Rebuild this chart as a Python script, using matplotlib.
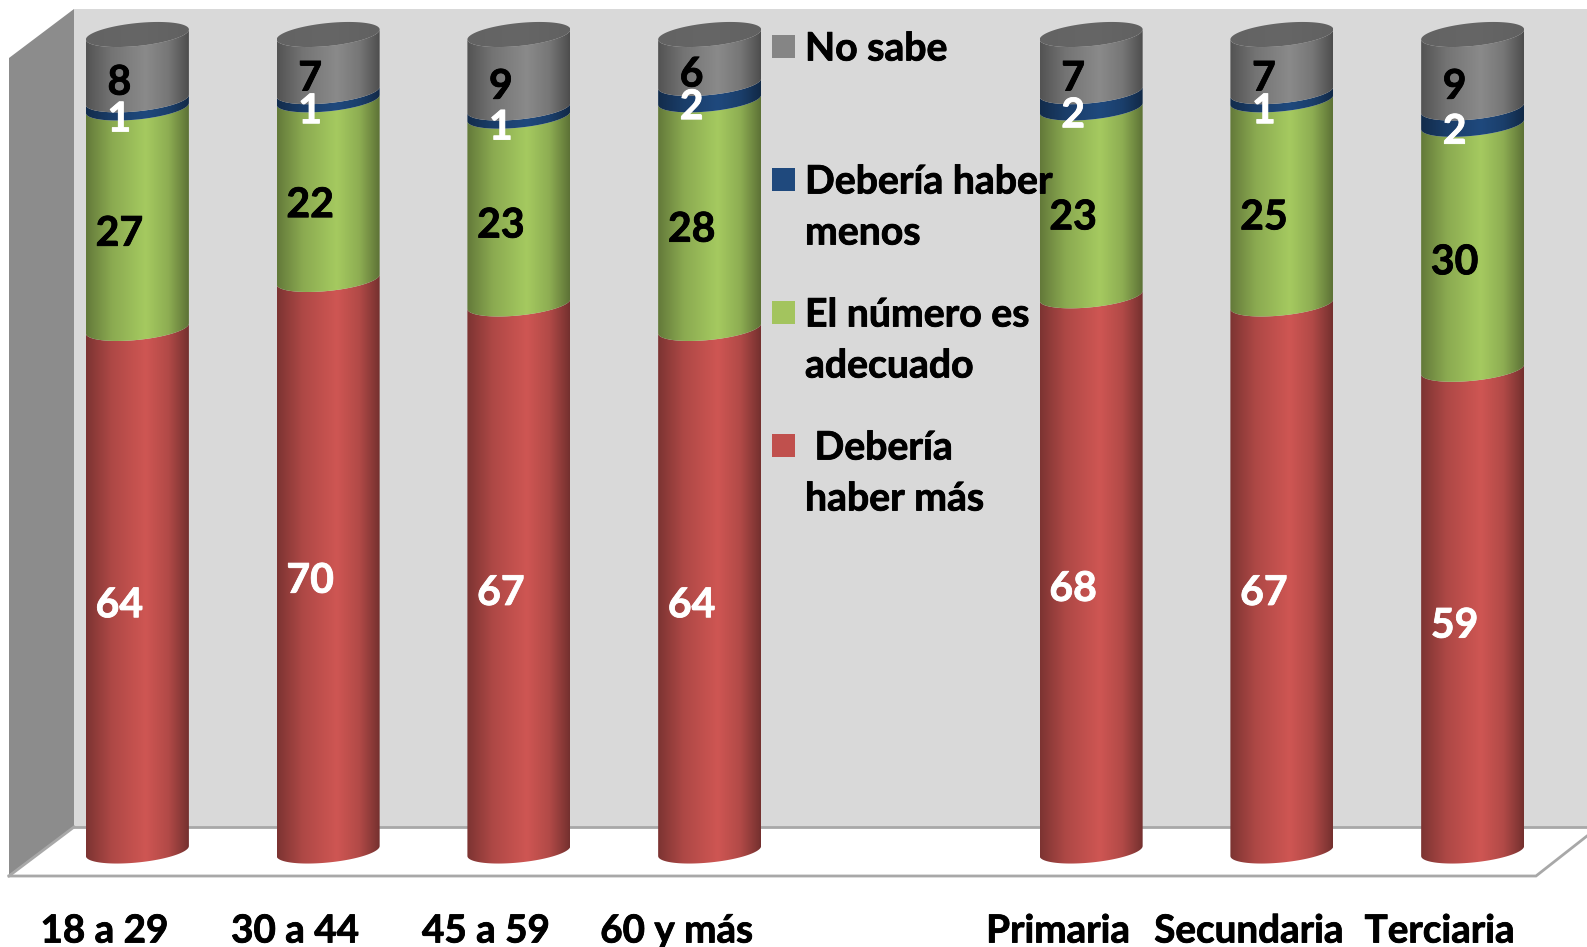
import matplotlib
matplotlib.use('Agg')
import matplotlib.pyplot as plt
import matplotlib.patheffects as pe
import numpy as np
from matplotlib.patches import Polygon, Rectangle
from matplotlib.colors import to_rgb

plt.rcParams['font.family'] = ['Lato', 'DejaVu Sans']
plt.rcParams['font.weight'] = 'bold'

# Data
categories = ['18 a 29', '30 a 44', '45 a 59', '60 y más', 'Primaria', 'Secundaria', 'Terciaria']
positions = [0, 1, 2, 3, 5, 6, 7]
mas = [64, 70, 67, 64, 68, 67, 59]
adecuado = [27, 22, 23, 28, 23, 25, 30]
menos = [1, 1, 1, 2, 2, 1, 2]
no_sabe = [8, 7, 9, 6, 7, 7, 9]

series = [mas, adecuado, menos, no_sabe]
colors = ['#cf5653', '#a5ca60', '#1f497d', '#8a8a8a']
label_colors = ['white', 'black', 'white', 'black']

legend_colors = ['#858585', '#1f497d', '#a3c45e', '#c0504d']
legend_labels = [['No sabe'], ['Debería haber', 'menos'], ['El número es', 'adecuado'], [' Debería', 'haber más']]

W, H = 1587, 947

# Pixel sizes of the 3D look
x_zero = 137.4      # pixel of position 0
x_step = 190.75     # pixels per position
y_zero = 851.0      # pixel of value 0
y_step = 8.165      # pixels per percent
bar_w = 103 / x_step
tilt = 5.0 / y_step
b = 11.5 / y_step

fig = plt.figure(figsize=(W / 100, H / 100), dpi=100)


def thick(color):
    # Calibri bold in the original is heavier than Lato bold
    return [pe.withStroke(linewidth=0.6, foreground=color)]


# Background axes works in pixels (walls, legend)
bg = fig.add_axes([0, 0, 1, 1])
bg.set_xlim(0, W)
bg.set_ylim(H, 0)
bg.axis('off')

bg.add_patch(Rectangle((74, 9), W - 74, 818, fc='#d9d9d9', ec='none'))
bg.add_patch(Polygon([(9, 58), (74, 9), (74, 827), (9, 875)], fc='#8c8c8c', ec='none'))
line_c = '#a8a8a8'
bg.plot([74, W], [827, 827], color=line_c, lw=2)
bg.plot([9, 1536, W], [876, 876, 836], color=line_c, lw=2, solid_joinstyle='miter')
bg.plot([9, 74], [876, 827], color=line_c, lw=2)

# Chart axes shares the same canvas, in data units
ax = fig.add_axes([0, 0, 1, 1])
ax.patch.set_visible(False)
ax.axis('off')
xlim = (-x_zero / x_step, (W - x_zero) / x_step)
ylim = ((y_zero - H) / y_step, y_zero / y_step)

# Horizontal shading across a cylinder
stops_x = [0.0, 0.06, 0.25, 0.58, 0.8, 0.95, 1.0]
stops_s = [0.60, 0.66, 0.84, 1.0, 0.86, 0.64, 0.56]
u = np.linspace(0, 1, 200)
shade = np.interp(u, stops_x, stops_s)
cap_shade = np.interp(u, [0, 0.5, 1], [0.97, 1.0, 0.95])


def gradient(color):
    return (np.array(to_rgb(color)) * shade[:, None])[None, :, :]


def cap_gradient(color):
    return (np.array(to_rgb(color)) * cap_shade[:, None])[None, :, :]


def lower_arc(cx, val):
    t = np.linspace(np.pi, 2 * np.pi, 60)
    return np.column_stack([cx + bar_w / 2 * np.cos(t), val + tilt * np.cos(t) + b * np.sin(t)])


def upper_arc(cx, val):
    t = np.linspace(0, np.pi, 60)
    return np.column_stack([cx + bar_w / 2 * np.cos(t), val + tilt * np.cos(t) + b * np.sin(t)])


for i, x in enumerate(positions):
    bottom = 0
    for s, vals in enumerate(series):
        v = vals[i]
        top = bottom + v
        outline = np.vstack([lower_arc(x, bottom), lower_arc(x, top)[::-1]])
        im = ax.imshow(gradient(colors[s]), extent=[x - bar_w / 2, x + bar_w / 2, bottom - 3, top + 3],
                       aspect='auto', zorder=2, interpolation='bilinear')
        im.set_clip_path(Polygon(outline, transform=ax.transData))
        ax.annotate(str(v), (x, bottom + v / 2), xytext=(-18, -16), textcoords='offset pixels',
                    ha='center', va='center', fontsize=29.5, color=label_colors[s], zorder=5,
                    path_effects=thick(label_colors[s]))
        bottom = top
    # top cap
    cap = np.vstack([lower_arc(x, bottom), upper_arc(x, bottom)])
    im = ax.imshow(cap_gradient('#666666'), extent=[x - bar_w / 2, x + bar_w / 2, bottom - 3, bottom + 3],
                   aspect='auto', zorder=3, interpolation='bilinear')
    im.set_clip_path(Polygon(cap, transform=ax.transData))
    ax.annotate(categories[i], (x, 0), xytext=(-33, -80), textcoords='offset pixels',
                ha='center', va='center', fontsize=27.8, color='black', annotation_clip=False,
                path_effects=thick('black'))

ax.set_xlim(xlim)
ax.set_ylim(ylim)

# Legend on top of the bars
fg = fig.add_axes([0, 0, 1, 1])
fg.patch.set_visible(False)
fg.set_xlim(0, W)
fg.set_ylim(H, 0)
fg.axis('off')
box_y = [35, 168, 301, 434]
line_gap = 51
for c, lines, y in zip(legend_colors, legend_labels, box_y):
    fg.add_patch(Rectangle((772, y), 23, 23, fc=c, ec='none'))
    for k, txt in enumerate(lines):
        fg.text(805, y + 14 + k * line_gap, txt, ha='left', va='center', fontsize=28.2, color='black',
                path_effects=thick('black'))

fig.savefig('out.png', dpi=100)
